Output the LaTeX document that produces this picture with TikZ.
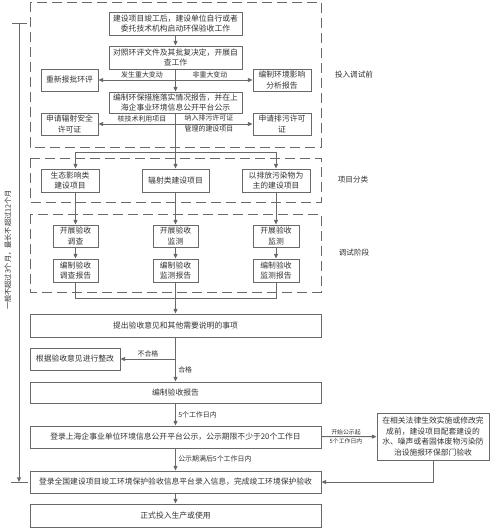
\documentclass[tikz,border=0pt]{standalone}
\usepackage{fontspec}
\usepackage{tikz}
\usetikzlibrary{arrows.meta}
\newfontfamily\cjk{Noto Sans CJK SC}
\definecolor{linegray}{RGB}{105,105,105}
\definecolor{textgray}{RGB}{50,50,50}

\begin{document}
\begin{tikzpicture}[x=0.75pt,y=0.75pt,yscale=-1,xscale=1,
    box/.style={draw=linegray, line width=0.7pt, inner sep=1pt, align=center, text=textgray, font=\cjk\fontsize{5.85}{8}\selectfont},
    wh/.style 2 args={minimum width=#1*0.75pt, minimum height=#2*0.75pt},
    lbl/.style={inner sep=0.75pt, align=center, text=textgray, font=\cjk\fontsize{5.2}{7.5}\selectfont},
    phase/.style={inner sep=0.75pt, text=textgray, font=\cjk\fontsize{5.7}{7}\selectfont},
    link/.style={draw=linegray, line width=0.75pt},
    arr/.style={link, -{Triangle[length=3.5pt,width=3pt]}},
    sec/.style={draw=linegray, line width=0.75pt, dash pattern={on 7.5pt off 3.75pt}}]
    \useasboundingbox (0,0) rectangle (500,529);

    %Shape: Dashed sections
    \draw [sec] (30,2) rectangle (321,147) ;
    \draw [sec] (30,158) rectangle (321,202) ;
    \draw [sec] (30,214) rectangle (321,292) ;

    % Phase labels
    \node [phase] (phasepre) at (354,75) {投入调试前};
    \node [phase] (phasecls) at (353,180) {项目分类};
    \node [phase] (phasetest) at (354,253) {调试阶段};

    %Before commissioning
    \node [box, wh={133}{23}] (start) at (175.5,23.5) {建设项目竣工后，建设单位自行或者\\委托技术机构启动环保验收工作};
    \node [box, wh={133}{23}] (check) at (175.5,57.5) {对照环评文件及其批复决定，开展自\\查工作};
    \node [box, wh={57}{22}] (rebatch) at (69.5,80) {重新报批环评};
    \node [box, wh={58}{22}] (analysis) at (282,80) {编制环境影响\\分析报告};
    \node [box, wh={133}{21}] (measures) at (175.5,102.5) {编制环保措施落实情况报告，并在上\\海企事业环境信息公开平台公示};
    \node [box, wh={57}{22}] (radpermit) at (69.5,124) {申请辐射安全\\许可证};
    \node [box, wh={58}{22}] (pollpermit) at (282,124) {申请排污许可\\证};

    %Project classes
    \node [box, wh={58}{23}] (eco) at (70,180.5) {生态影响类\\建设项目};
    \node [box, wh={67}{23}] (rad) at (175.5,180.5) {辐射类建设项目};
    \node [box, wh={68}{23}] (poll) at (276,180.5) {以排放污染物为\\主的建设项目};

    %Commissioning
    \node [box, wh={45}{22}] (survey) at (75.5,236) {开展验收\\调查};
    \node [box, wh={45}{22}] (monA) at (175.5,236) {开展验收\\监测};
    \node [box, wh={46}{22}] (monB) at (276,236) {开展验收\\监测};
    \node [box, wh={45}{23}] (surveyrep) at (75.5,270.5) {编制验收\\调查报告};
    \node [box, wh={45}{23}] (monArep) at (175.5,270.5) {编制验收\\监测报告};
    \node [box, wh={46}{23}] (monBrep) at (276,270.5) {编制验收\\监测报告};

    %Acceptance
    \node [box, wh={291}{23}] (opinion) at (175.5,325.5) {提出验收意见和其他需要说明的事项};
    \node [box, wh={90}{22}] (rectify) at (75,359) {根据验收意见进行整改};
    \node [box, wh={291}{21}] (accrep) at (175.5,392.5) {编制验收报告};
    \node [box, wh={291}{22}] (publicity) at (175.5,437) {登录上海企事业单位环境信息公开平台公示，公示期限不少于20个工作日};
    \node [box, wh={112}{47}] (water) at (433,436.5) {在相关法律生效实施或修改完\\成前，建设项目配套建设的\\水、噪声或者固体废物污染防\\治设施报环保部门验收};
    \node [box, wh={291}{22}] (national) at (175.5,482) {登录全国建设项目竣工环境保护验收信息平台录入信息，完成竣工环境保护验收};
    \node [box, wh={291}{23}] (production) at (175.5,515.5) {正式投入生产或使用};

    %Junctions
    \coordinate (jmajor) at (175.5,80);
    \coordinate (jpermit) at (175.5,124);
    \coordinate (bus) at (175.5,152);
    \coordinate (busL) at (75.5,152);
    \coordinate (busR) at (276,152);
    \coordinate (mergeL) at (75.5,298);
    \coordinate (mergeR) at (276,298);
    \coordinate (jfail) at (175.5,359);

    %Connectors
    \draw [arr] (start) -- (check) ;
    \draw [arr] (check) -- (measures) ;
    \draw [arr] (jmajor) -- (rebatch) ;
    \draw [arr] (jmajor) -- (analysis) ;
    \draw [arr] (jpermit) -- (radpermit) ;
    \draw [arr] (jpermit) -- (pollpermit) ;
    \draw [link] (measures) -- (bus) ;
    \draw [link] (busL) -- (busR) ;
    \draw [arr] (busL) -- (busL |- eco.north) ;
    \draw [arr] (bus) -- (rad) ;
    \draw [arr] (busR) -- (poll) ;
    \draw [arr] (eco.south -| survey) -- (survey) ;
    \draw [arr] (rad) -- (monA) ;
    \draw [arr] (poll) -- (monB) ;
    \draw [arr] (survey) -- (surveyrep) ;
    \draw [arr] (monA) -- (monArep) ;
    \draw [arr] (monB) -- (monBrep) ;
    \draw [link] (surveyrep) -- (mergeL) -- (mergeR) -- (monBrep) ;
    \draw [arr] (monArep) -- (opinion) ;
    \draw [arr] (jfail) -- (rectify) ;
    \draw [arr] (opinion) -- (accrep) ;
    \draw [arr] (accrep) -- (publicity) ;
    \draw [arr] (publicity) -- (water) ;
    \draw [arr] (water.south) |- (national.east) ;
    \draw [arr] (publicity) -- (national) ;
    \draw [arr] (national) -- (production) ;

    % Text Node
    \node [lbl, anchor=south] (lblmajor) at (142,79) {发生重大变动};
    \node [lbl, anchor=south] (lblminor) at (210,79) {非重大变动};
    \node [lbl, anchor=south] (lblnuclear) at (142,123) {核技术利用项目};
    \node [lbl, font=\cjk\fontsize{5.2}{7.8}\selectfont] (lblpermit) at (209,123.5) {纳入排污许可证\\管理的建设项目};
    \node [lbl, anchor=south] (lblfail) at (148,358) {不合格};
    \node [lbl, anchor=west] (lblpass) at (177,370) {合格};
    \node [lbl, anchor=west] (lblfive) at (177,415) {5个工作日内};
    \node [lbl, anchor=west] (lblexpire) at (177,459) {公示期满后5个工作日内};
    \node [lbl, font=\cjk\fontsize{4.4}{7}\selectfont] (lblstart) at (346,436.5) {开始公示起\\5个工作日内};

    %Period bracket
    \coordinate (brtop) at (19,23.5);
    \coordinate (brbot) at (19,482);
    \draw [link] (brtop) ++(-7,0) -- ++(15,0) ;
    \draw [link] (brbot) ++(-8,0) -- ++(17,0) ;
    \draw [arr] (brtop) -- (brbot) ;
    \node [lbl, rotate=90, font=\cjk\fontsize{5.4}{7}\selectfont] (period) at (8,250) {一般不超过3个月，最长不超过12个月};

\end{tikzpicture}
\end{document}
